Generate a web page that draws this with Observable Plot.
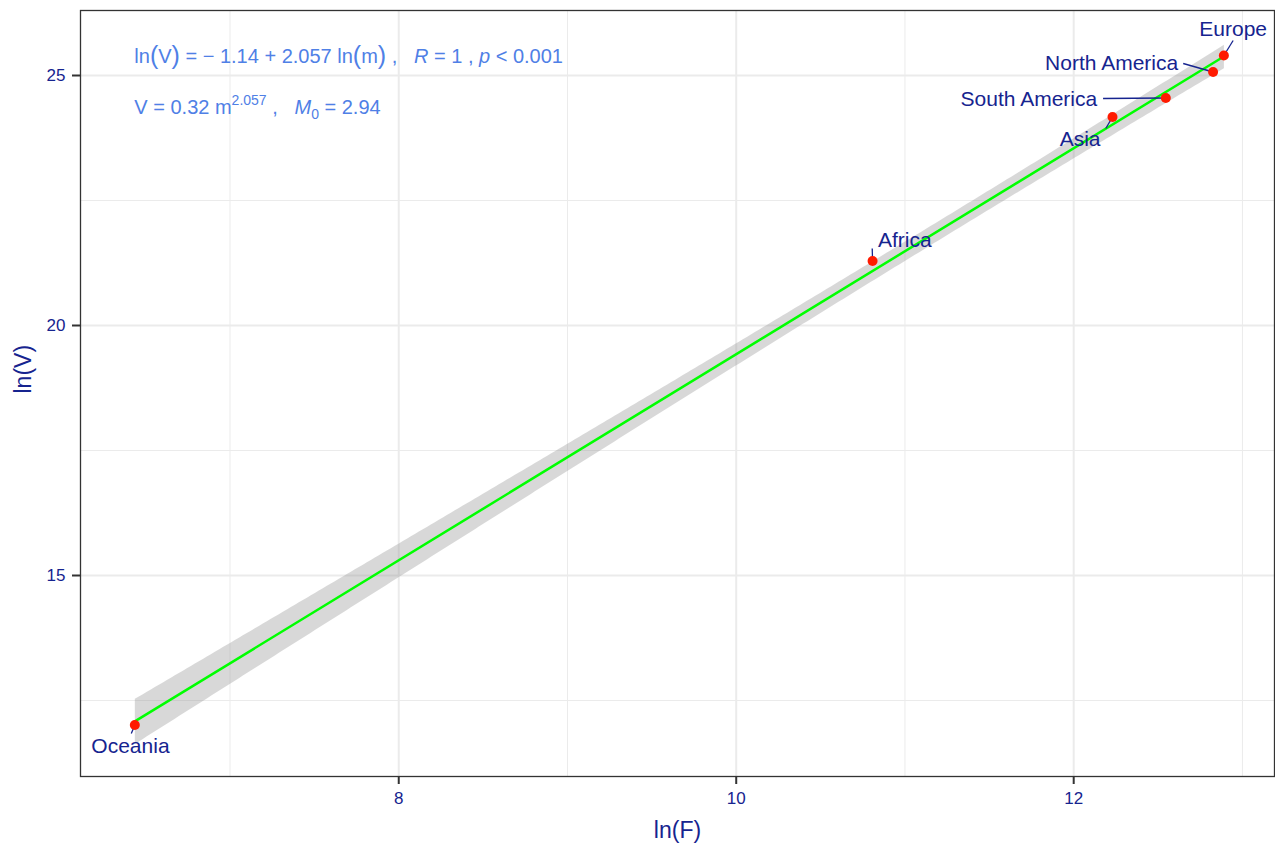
<!DOCTYPE html>
<html><head><meta charset="utf-8">
<script src="https://cdn.jsdelivr.net/npm/d3@7"></script>
<script src="https://cdn.jsdelivr.net/npm/@observablehq/plot@0.6"></script>
<style>body{margin:0;background:#fff}</style>
</head><body><div id="chart"></div>
<script>
const regions = ["Europe", "North America", "South America", "Asia", "Africa", "Oceania"];
const lnF = [12.89, 12.826, 12.546, 12.23, 10.808, 6.436];
const lnV = [25.40, 25.07, 24.55, 24.17, 21.29, 12.01];
// label anchor positions (data units)
const labelX = [12.945, 12.619, 12.139, 12.038, 10.84, 6.41];
const labelY = [25.92, 25.24, 24.52, 23.72, 21.70, 11.58];
const segX = [12.945, 12.649, 12.174, 12.19, 10.806, 6.415];
const segY = [25.70, 25.24, 24.54, 23.94, 21.54, 11.84];
const anchors = ["middle", "end", "end", "middle", "start", "middle"];
const xTicks = [8, 10, 12];
const xMinor = [7, 9, 11, 13];
const yTicks = [15, 20, 25];
const yMinor = [12.5, 17.5, 22.5];

const data = regions.map((r, i) => ({
  region: r, lnF: lnF[i], lnV: lnV[i],
  lx: labelX[i], ly: labelY[i], sx: segX[i], sy: segY[i], anchor: anchors[i]
}));

const navy = "#16248f";
const annot = "#4f80e6";
const font = "'Liberation Sans', Arial, Helvetica, sans-serif";

const textMark = (a) => Plot.text(data.filter(d => d.anchor === a), {
  x: "lx", y: "ly", text: "region", textAnchor: a, fill: navy, fontSize: 21, lineAnchor: "middle"
});

const plot = Plot.plot({
  width: 1275, height: 844,
  marginLeft: 80, marginRight: 1, marginTop: 10, marginBottom: 68,
  style: {fontFamily: font, background: "white"},
  x: {domain: [6.114, 13.19]},
  y: {domain: [10.98, 26.3]},
  marks: [
    Plot.gridX(xMinor, {stroke: "#ebebeb", strokeOpacity: 1, strokeWidth: 1}),
    Plot.gridX(xTicks, {stroke: "#ebebeb", strokeOpacity: 1, strokeWidth: 2}),
    Plot.gridY(yMinor, {stroke: "#ebebeb", strokeOpacity: 1, strokeWidth: 1}),
    Plot.gridY(yTicks, {stroke: "#ebebeb", strokeOpacity: 1, strokeWidth: 2}),
    Plot.linearRegressionY(data, {x: "lnF", y: "lnV", ci: 0.95, stroke: "#00ff00", strokeWidth: 2.5, fill: "#999999", fillOpacity: 0.38}),
    Plot.link(data, {x1: "lnF", y1: "lnV", x2: "sx", y2: "sy", stroke: navy, strokeWidth: 1.3}),
    Plot.dot(data, {x: "lnF", y: "lnV", r: 5, fill: "#ff1a00"}),
    textMark("middle"), textMark("end"), textMark("start"),
    Plot.frame({stroke: "#333333", strokeWidth: 1.3}),
    Plot.axisX({ticks: xTicks, tickSize: 8, tickPadding: 7, fontSize: 17, stroke: "#333333", strokeWidth: 2, fill: navy, label: null}),
    Plot.axisY({ticks: yTicks, tickSize: 8, tickPadding: 7, fontSize: 17, stroke: "#333333", strokeWidth: 2, fill: navy, label: null}),
    Plot.text(["ln(F)"], {frameAnchor: "bottom", dy: 54, fontSize: 23, fill: navy, lineAnchor: "middle"}),
    Plot.text(["ln(V)"], {frameAnchor: "left", dx: -57, rotate: -90, fontSize: 23, fill: navy, lineAnchor: "middle"})
  ]
});
document.getElementById("chart").appendChild(plot);

const svg = d3.select(plot);

// equation annotations
const ax = plot.scale("x").apply(d3.min(lnF));
const g = svg.append("g").attr("fill", annot).attr("font-family", font).attr("font-size", 20)
  .attr("text-anchor", "start").style("white-space", "pre");
const t1 = g.append("text").attr("x", ax).attr("y", 63);
t1.append("tspan").text("ln");
t1.append("tspan").attr("font-size", 25).attr("dy", 1).text("(");
t1.append("tspan").attr("dy", -1).text("V");
t1.append("tspan").attr("font-size", 25).attr("dy", 1).text(")");
t1.append("tspan").attr("dy", -1).text(" = \u2212 1.14 + 2.057 ln");
t1.append("tspan").attr("font-size", 25).attr("dy", 1).text("(");
t1.append("tspan").attr("dy", -1).text("m");
t1.append("tspan").attr("font-size", 25).attr("dy", 1).text(")");
t1.append("tspan").attr("dy", -1).text(" ,   ");
t1.append("tspan").attr("font-style", "italic").text("R");
t1.append("tspan").text(" = 1 , ");
t1.append("tspan").attr("font-style", "italic").text("p");
t1.append("tspan").text(" < 0.001");

const t2 = g.append("text").attr("x", ax).attr("y", 114);
t2.append("tspan").text("V = 0.32 m");
t2.append("tspan").attr("font-size", 14).attr("dy", -9).text("2.057");
t2.append("tspan").attr("dy", 9).text(" ,   ");
t2.append("tspan").attr("font-style", "italic").text("M");
t2.append("tspan").attr("font-size", 14).attr("dy", 5).text("0");
t2.append("tspan").attr("dy", -5).text(" = 2.94");
</script>
</body></html>
